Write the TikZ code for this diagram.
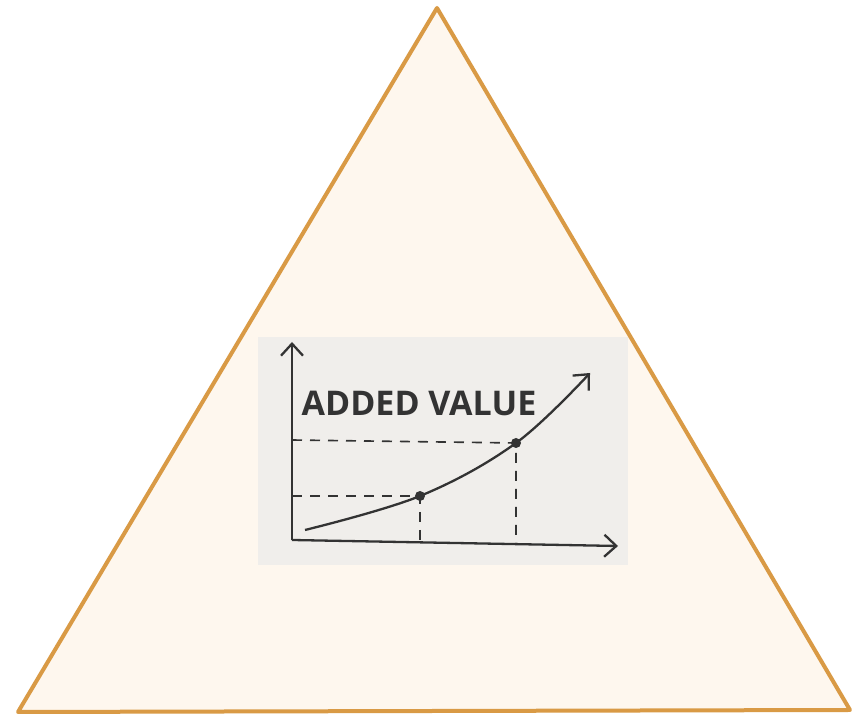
\documentclass[tikz,border=0pt]{standalone}
\usepackage{fontspec}
\setsansfont{Open Sans}
\usepackage{tikz}
\usetikzlibrary{arrows.meta,positioning}
\definecolor{trifill}{HTML}{FEF7EE}
\definecolor{tridraw}{HTML}{D99A45}
\definecolor{panelgray}{HTML}{F0EEEB}
\definecolor{inkgray}{HTML}{333333}

\begin{document}
\begin{tikzpicture}[
    x=1pt, y=1pt,
    tri/.style={draw=tridraw, fill=trifill, line width=4pt, line join=round},
    panel/.style={rectangle, fill=panelgray, minimum width=370pt, minimum height=228pt, inner sep=0pt},
    axis/.style={-{Straight Barb[length=12pt, width=22pt]}, inkgray, line width=2.3pt},
    guide/.style={dashed, dash pattern=on 10pt off 8pt, inkgray, line width=1.6pt},
    dot/.style={circle, fill=inkgray, inner sep=0pt, minimum size=10pt},
    title/.style={font=\sffamily\bfseries\fontsize{34}{37}\selectfont, text=inkgray}
]
\useasboundingbox (0,0) rectangle (854,719);
\fill[white] (0,0) rectangle (854,719);

% triangle
\coordinate (top) at (437,711);
\coordinate (bl) at (18,7);
\coordinate (br) at (850,9);
\draw[tri] (top) -- (bl) -- (br) -- cycle;

% chart panel
\node[panel] (chart) at (443,268) {};
\coordinate (o) at (292,179);
\coordinate (ytop) at (292,377);
\coordinate (xend) at (618,173);
\node[dot] (p1) at (420,223) {};
\node[dot] (p2) at (516,276) {};
\draw[axis] (o) -- (ytop);
\draw[axis] (o) -- (xend);
\draw[axis] plot[smooth, tension=0.6] coordinates {(305,189) (420,223) (516,276) (590,346)};

% guide lines
\draw[guide] (292,223) -- (p1.center) -- (420,179);
\draw[guide] (292,279) -- (p2.center) -- (516,174);

\node[title] (label) at (419,316) {ADDED VALUE};
\end{tikzpicture}
\end{document}
